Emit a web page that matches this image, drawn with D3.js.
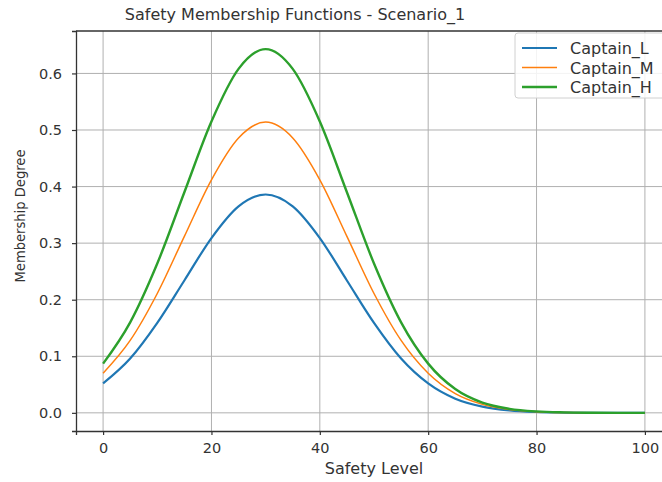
<!DOCTYPE html>
<html>
<head>
<meta charset="utf-8">
<script src="https://cdn.jsdelivr.net/npm/d3@7"></script>
<style>
  body { margin: 0; background: #fff; }
  svg { font-family: "DejaVu Sans", sans-serif; }
</style>
</head>
<body>
<div id="chart"></div>
<script>
// values, every 5 units of safety level
var levels = [0, 5, 10, 15, 20, 25, 30, 35, 40, 45, 50, 55, 60, 65, 70, 75, 80, 85, 90, 95, 100];
var captainL = [0.052, 0.096, 0.159, 0.234, 0.309, 0.365, 0.386, 0.365, 0.309, 0.234, 0.159, 0.096, 0.052, 0.025, 0.011, 0.0043, 0.0015, 0.0005, 0.0001, 0.0, 0.0];
var captainM = [0.070, 0.128, 0.211, 0.312, 0.412, 0.486, 0.514, 0.486, 0.412, 0.312, 0.211, 0.128, 0.070, 0.034, 0.015, 0.0057, 0.002, 0.0006, 0.0002, 0.0, 0.0];
var captainH = [0.087, 0.160, 0.264, 0.390, 0.515, 0.608, 0.643, 0.608, 0.515, 0.390, 0.264, 0.160, 0.087, 0.042, 0.018, 0.0071, 0.0025, 0.0008, 0.0002, 0.0, 0.0];
var seriesNames = ["Captain_L", "Captain_M", "Captain_H"];
var xTicks = [0, 20, 40, 60, 80, 100];
var yTicks = [0.0, 0.1, 0.2, 0.3, 0.4, 0.5, 0.6];

var w = 662, h = 482;
var padL = 76, padR = 672, padT = 31, padB = 431;

var colors = ["#1f77b4", "#ff7f0e", "#2ca02c"];
var widths = [2.2, 1.5, 2.4];

var svg = d3.select("#chart").append("svg")
    .attr("width", w)
    .attr("height", h);

var x = d3.scaleLinear().domain([-5, 105]).range([padL, padR]);
var y = d3.scaleLinear().domain([-0.0321, 0.675]).range([padB, padT]);

// grid
svg.append("g").selectAll("line").data(xTicks).enter().append("line")
   .attr("x1", function(d) { return x(d); }).attr("x2", function(d) { return x(d); })
   .attr("y1", padT).attr("y2", padB)
   .attr("stroke", "#b0b0b0").attr("stroke-width", 1);
svg.append("g").selectAll("line").data(yTicks).enter().append("line")
   .attr("x1", padL).attr("x2", padR)
   .attr("y1", function(d) { return y(d); }).attr("y2", function(d) { return y(d); })
   .attr("stroke", "#b0b0b0").attr("stroke-width", 1);

// lines
var data = [captainL, captainM, captainH];
var line = d3.line()
    .x(function(d, i) { return x(levels[i]); })
    .y(function(d) { return y(d); })
    .curve(d3.curveMonotoneX);

svg.append("g").selectAll("path").data(data).enter().append("path")
   .attr("d", line)
   .attr("fill", "none")
   .attr("stroke", function(d, i) { return colors[i]; })
   .attr("stroke-width", function(d, i) { return widths[i]; });

// axes
var xAxis = svg.append("g")
    .attr("transform", "translate(0," + padB + ")")
    .call(d3.axisBottom(x).tickValues(xTicks).tickSize(4).tickPadding(8).tickFormat(d3.format("d")));
var yAxis = svg.append("g")
    .attr("transform", "translate(" + padL + ",0)")
    .call(d3.axisLeft(y).tickValues(yTicks).tickSize(4).tickPadding(10).tickFormat(d3.format(".1f")));

[xAxis, yAxis].forEach(function(a) {
    a.select(".domain").attr("stroke", "#333").attr("stroke-width", 1.3);
    a.selectAll(".tick line").attr("stroke", "#333").attr("stroke-width", 1.2);
    a.selectAll(".tick text").attr("fill", "#333").style("font-size", "14.5px").style("font-family", "DejaVu Sans");
});
// top spine
svg.append("line").attr("x1", padL).attr("x2", padR).attr("y1", padT).attr("y2", padT)
   .attr("stroke", "#333").attr("stroke-width", 1.3);

// labels
svg.append("text")
   .attr("x", 295).attr("y", 20)
   .attr("text-anchor", "middle")
   .style("font-size", "16px").attr("fill", "#333")
   .text("Safety Membership Functions - Scenario_1");
svg.append("text")
   .attr("x", 374).attr("y", 474)
   .attr("text-anchor", "middle")
   .style("font-size", "16px").attr("fill", "#333")
   .text("Safety Level");
svg.append("text")
   .attr("transform", "translate(25,216) rotate(-90)")
   .attr("text-anchor", "middle")
   .attr("textLength", 133)
   .attr("lengthAdjust", "spacingAndGlyphs")
   .style("font-size", "14.5px").attr("fill", "#333")
   .text("Membership Degree");

// legend
var legend = svg.append("g").attr("transform", "translate(515,33)");
legend.append("rect")
   .attr("x", 0).attr("y", 0).attr("width", 160).attr("height", 65)
   .attr("rx", 3)
   .attr("fill", "white").attr("fill-opacity", 0.85)
   .attr("stroke", "#d0d0d0");
seriesNames.forEach(function(name, i) {
    var ly = 15 + i * 19.5;
    legend.append("line")
       .attr("x1", 7).attr("x2", 42).attr("y1", ly).attr("y2", ly)
       .attr("stroke", colors[i]).attr("stroke-width", widths[i]);
    legend.append("text")
       .attr("x", 55).attr("y", ly + 6)
       .style("font-size", "16px").attr("fill", "#333")
       .text(name);
});
</script>
</body>
</html>
